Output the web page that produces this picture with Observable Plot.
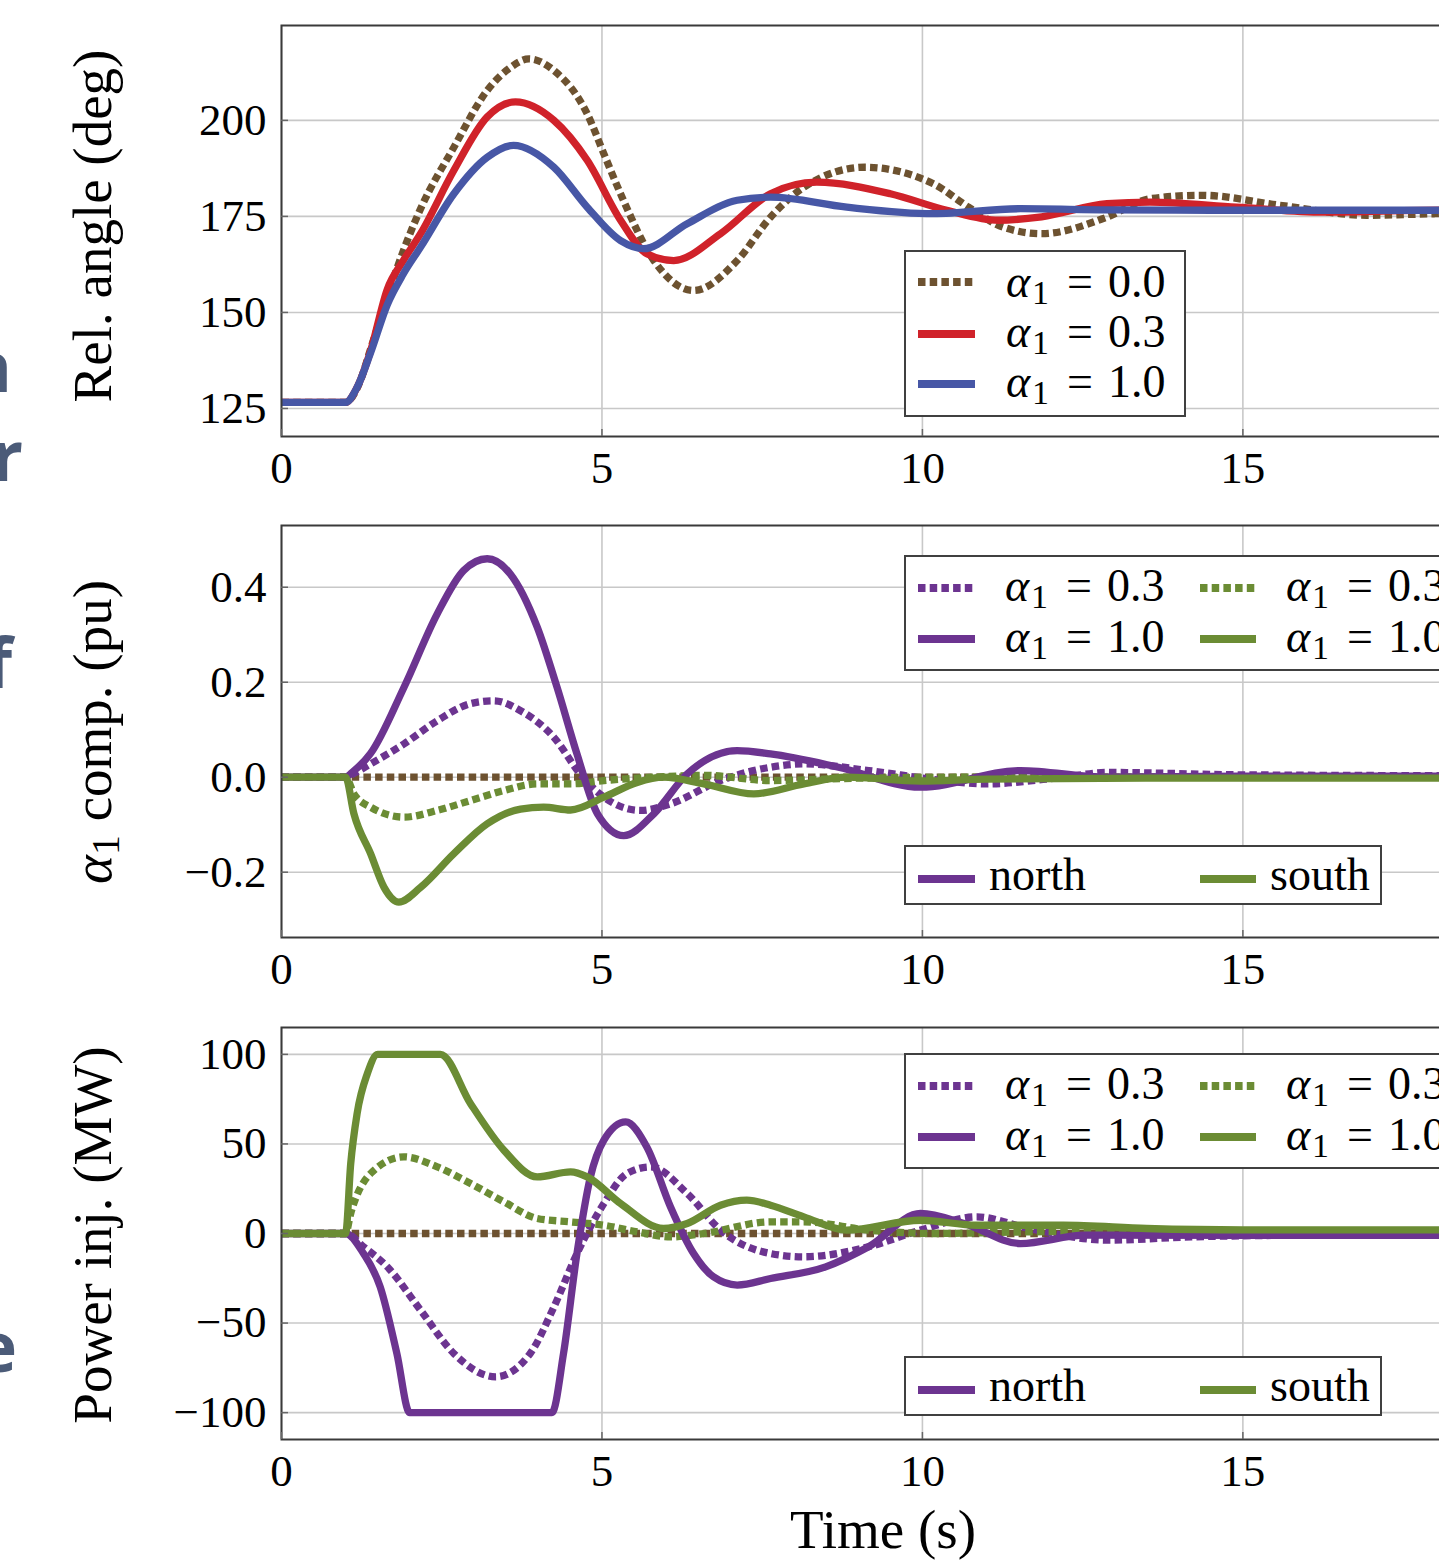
<!DOCTYPE html>
<html>
<head>
<meta charset="utf-8">
<script src="https://cdn.jsdelivr.net/npm/d3@7"></script>
<script src="https://cdn.jsdelivr.net/npm/@observablehq/plot@0.6"></script>
<style>
html, body { margin: 0; padding: 0; background: #fff; overflow: hidden; }
#wrap { position: relative; width: 1439px; height: 1562px; overflow: hidden; background: #fff;
  font-family: "Liberation Serif", "DejaVu Serif", serif; color: #000; }
.panel { position: absolute; left: 0; }
.ylab { position: absolute; white-space: nowrap; font-size: 55px; line-height: 1;
  transform: translate(-50%, -50%) rotate(-90deg); }
.legend { position: absolute; border: 2px solid #404040; background: #fff; box-sizing: border-box; }
.item { position: absolute; white-space: nowrap; font-size: 46px; line-height: 1; }
.al { font-style: italic; display: inline-block; width: 26px; }
.sub { font-size: 34px; position: relative; top: 7px; display: inline-block; width: 15px; }
.eq { display: inline-block; margin-left: 20px; margin-right: 15px; }
.sw { position: absolute; overflow: visible; }
.edge { position: absolute; left: -200px; text-align: right; font-family: "Open Sans", sans-serif;
  font-weight: 700; color: #4b5b78; font-size: 70px; line-height: 1; }
.ital { font-style: italic; }
.ysub { font-size: 40px; position: relative; top: 8px; }
</style>
</head>
<body>
<div id="wrap"></div>
<script>
// ---------------- data ----------------
const xTicks = [0, 5, 10, 15];
const xDomain = [0, 18.77];

// Panel 1: relative angle (deg)
const angleTicks = [125, 150, 175, 200];
const angleDomain = [117.7, 224.7];
const tAng00 = [0, 1.0, 1.2, 1.4, 1.65, 1.9, 2.17, 2.69, 3.21, 3.55, 3.86, 4.25, 4.77, 5.03, 5.29, 5.81, 6.43, 7.11, 7.63, 8.15, 9.1, 10.17, 10.72, 11.26, 11.86, 12.88, 13.55, 14.36, 15.58, 16.93, 18.0, 18.77];
const vAng00 = [126.6, 126.6, 131, 141, 154, 166, 177, 193, 207.8, 213.5, 216, 213, 201.7, 191.3, 180.9, 163.5, 155.7, 163.5, 174.8, 182.6, 187.8, 183.5, 177.4, 172.2, 170.5, 174.8, 179.6, 180.5, 177.9, 175.3, 175.7, 176];
const tAng03 = [0, 1.0, 1.18, 1.39, 1.65, 1.9, 2.17, 2.69, 3.21, 3.65, 4.25, 4.77, 5.29, 5.7, 6.12, 6.85, 7.63, 8.35, 9.5, 10.38, 11.19, 11.86, 12.88, 13.55, 14.9, 16.26, 17.5, 18.77];
const vAng03 = [126.6, 126.6, 130.5, 140, 156, 163.5, 170.5, 187, 200.9, 204.8, 200, 189.6, 174, 165.3, 163.5, 170.5, 180.9, 183.9, 180.9, 176.6, 174, 174.9, 178.3, 178.7, 177.4, 176.1, 176.5, 176.8];
const tAng10 = [0, 1.0, 1.18, 1.39, 1.65, 1.9, 2.17, 2.69, 3.21, 3.62, 4.25, 4.77, 5.29, 5.65, 6.33, 7.11, 7.63, 8.82, 10.17, 11.53, 12.88, 14.5, 16.5, 18.77];
const vAng10 = [126.6, 126.6, 130.5, 139.5, 152, 160, 167, 180.9, 190.4, 193.5, 187.8, 177.4, 168.7, 166.6, 173.1, 179.2, 180, 177.4, 175.7, 177, 176.7, 176.6, 176.6, 176.6];

// Panel 2: alpha_1 component (pu)
const compTicks = [-0.2, 0, 0.2, 0.4];
const compDomain = [-0.3375, 0.53];
const tComp00 = [0, 18.77];
const vComp00 = [0, 0];
const tCompN03 = [0, 1.0, 1.1, 1.39, 1.91, 2.43, 2.95, 3.31, 3.73, 4.25, 4.66, 5.03, 5.6, 6.07, 6.85, 7.63, 8.15, 9.16, 10.31, 10.99, 12.2, 12.88, 15, 18.77];
const vCompN03 = [0, 0, 0.006, 0.028, 0.07, 0.119, 0.155, 0.161, 0.14, 0.084, 0.007, -0.042, -0.07, -0.056, -0.007, 0.021, 0.028, 0.014, -0.007, -0.014, 0, 0.01, 0.005, 0.003];
const tCompS03 = [0, 1.0, 1.13, 1.39, 1.91, 2.43, 2.95, 3.47, 3.99, 4.51, 5.03, 5.81, 6.59, 7.63, 9, 11, 14, 18.77];
const vCompS03 = [0, 0, -0.035, -0.063, -0.084, -0.07, -0.049, -0.028, -0.014, -0.014, -0.007, 0, 0.004, -0.007, -0.002, 0, 0, 0];
const tCompN10 = [0, 1.0, 1.1, 1.39, 1.91, 2.43, 2.84, 3.21, 3.57, 3.99, 4.3, 4.61, 4.93, 5.34, 5.81, 6.33, 7.11, 7.63, 8.69, 9.97, 11.53, 12.88, 15, 18.77];
const vCompN10 = [0, 0, 0.01, 0.05, 0.189, 0.344, 0.435, 0.46, 0.428, 0.316, 0.189, 0.049, -0.077, -0.123, -0.077, 0.007, 0.056, 0.049, 0.021, -0.021, 0.014, 0, 0.002, 0.002];
const tCompS10 = [0, 1.0, 1.13, 1.39, 1.6, 1.83, 2.17, 2.69, 3.21, 3.73, 4.09, 4.51, 5.03, 5.55, 5.96, 6.59, 7.37, 8.15, 8.82, 9.97, 11, 14, 18.77];
const vCompS10 = [0, 0, -0.077, -0.161, -0.232, -0.263, -0.232, -0.161, -0.098, -0.067, -0.063, -0.069, -0.042, -0.011, 0, -0.014, -0.035, -0.014, 0, -0.008, -0.004, -0.002, -0.002];

// Panel 3: power injection (MW)
const powTicks = [-100, -50, 0, 50, 100];
const powDomain = [-115, 115];
const tPow00 = [0, 18.77];
const vPow00 = [0, 0];
const tPowN03 = [0, 1.0, 1.28, 1.65, 2.17, 2.69, 3.34, 3.88, 4.25, 4.61, 5.03, 5.39, 5.76, 6.33, 6.85, 7.63, 8.15, 9.16, 9.97, 10.85, 11.66, 12.88, 14.2, 16, 18.77];
const vPowN03 = [0, 0, -7.4, -18.6, -42.8, -67, -80, -67, -41, -11.2, 16.7, 33.5, 37.2, 22.3, 1.9, -11.2, -13, -7.4, 1.9, 9.3, 2.8, -3.7, -1.9, -1, -1];
const tPowS03 = [0, 1.0, 1.08, 1.39, 1.91, 2.43, 2.95, 3.47, 3.99, 4.51, 5.03, 5.55, 6.07, 6.59, 7.63, 8.15, 9.16, 10.17, 12, 15, 18.77];
const vPowS03 = [0, 0, 11.2, 33.5, 42.8, 37.2, 27.9, 17.7, 8.4, 6.5, 4.6, 0.9, -1.9, 0, 6.5, 6.5, 1.9, 0, 1, 0.5, 0.5];
const tPowN10 = [0, 1.0, 1.28, 1.54, 1.8, 2.0, 4.22, 4.4, 4.61, 4.82, 5.03, 5.37, 5.7, 6.07, 6.43, 6.74, 7.11, 7.63, 8.49, 9.16, 9.97, 10.65, 11.53, 12.54, 15, 18.77];
const vPowN10 = [0, 0, -11.2, -29.8, -67, -100, -100, -67, -11.2, 31.6, 52.1, 62.3, 48.3, 14.8, -11.2, -24.2, -28.8, -25.1, -18.6, -7.4, 11.2, 5.6, -5.6, -0.9, -1, -1];
const tPowS10 = [0, 1.0, 1.08, 1.18, 1.34, 1.5, 2.48, 2.95, 3.47, 3.99, 4.51, 4.77, 5.29, 5.96, 6.33, 6.85, 7.26, 7.63, 8.15, 8.82, 9.97, 10.85, 12.2, 13.5, 15, 18.77];
const vPowS10 = [0, 0, 39, 67, 89.3, 100, 100, 72.5, 46.5, 31.6, 34.4, 31.6, 16.7, 2.8, 5.6, 15.8, 18.6, 15.8, 9.3, 1.9, 7.4, 4.6, 4.6, 2.8, 2, 2];

// labels
const yLabel1 = "Rel. angle (deg)";
const yLabel2Rest = " comp. (pu)";
const yLabel3 = "Power inj. (MW)";
const xLabel = "Time (s)";
const alphaValues = ["0.0", "0.3", "1.0"];
const areaNames = ["north", "south"];

// ---------------- style ----------------
const C = { brown: "#6d5230", red: "#d0222a", blue: "#4757a6", purple: "#6c3490", green: "#6b8c34" };
const LW = 7.3;
const DASH = "7.5,4.2";

function pts(t, v) { return t.map((ti, i) => ({ t: ti, v: v[i] })); }
function lineMark(t, v, color, dotted) {
  return Plot.line(pts(t, v), {
    x: "t", y: "v", stroke: color, strokeWidth: LW, curve: "monotone-x",
    strokeDasharray: dotted ? DASH : undefined, strokeLinejoin: "round", strokeLinecap: "butt"
  });
}
const minus = (s) => s.replace("-", "\u2212");

function makePanel({ marginTop, frameH, marginBottom, yDomain, yTicks, yFormat, lines, extra = [] }) {
  return Plot.plot({
    width: 1494, height: marginTop + frameH + marginBottom,
    marginLeft: 281, marginRight: 10, marginTop, marginBottom,
    style: "max-width:none;background:transparent;overflow:visible;font-family:'Liberation Serif',serif;",
    x: { domain: xDomain },
    y: { domain: yDomain },
    marks: [
      Plot.gridX(xTicks, { stroke: "#c8c8c8", strokeOpacity: 1, strokeWidth: 1.6 }),
      Plot.gridY(yTicks, { stroke: "#c8c8c8", strokeOpacity: 1, strokeWidth: 1.6 }),
      ...lines,
      Plot.frame({ stroke: "#3a3a3a", strokeWidth: 2 }),
      Plot.axisX(xTicks, { tickSize: -7, tickFormat: () => "", stroke: "#666", strokeWidth: 1.5, label: null }),
      Plot.axisY(yTicks, { tickSize: -7, tickFormat: () => "", stroke: "#666", strokeWidth: 1.5, label: null }),
      Plot.axisX(xTicks, { tickSize: 0, tickPadding: 15, fontSize: 45, label: null, fill: "#000" }),
      Plot.axisY(yTicks, { tickSize: 0, tickPadding: 15, fontSize: 45, label: null, tickFormat: yFormat, fill: "#000" }),
      ...extra
    ]
  });
}

const wrap = document.getElementById("wrap");
function place(el, top) { el.classList.add("panel"); el.style.top = top + "px"; wrap.appendChild(el); }

// Panel 1
place(makePanel({
  marginTop: 25, frameH: 411, marginBottom: 64,
  yDomain: angleDomain, yTicks: angleTicks, yFormat: (d) => String(d),
  lines: [
    lineMark(tAng00, vAng00, C.brown, true),
    lineMark(tAng03, vAng03, C.red, false),
    lineMark(tAng10, vAng10, C.blue, false)
  ]
}), 0);

// Panel 2
place(makePanel({
  marginTop: 25, frameH: 412, marginBottom: 63,
  yDomain: compDomain, yTicks: compTicks, yFormat: (d) => minus(d.toFixed(1)),
  lines: [
    lineMark(tComp00, vComp00, C.brown, true),
    lineMark(tCompN03, vCompN03, C.purple, true),
    lineMark(tCompS03, vCompS03, C.green, true),
    lineMark(tCompN10, vCompN10, C.purple, false),
    lineMark(tCompS10, vCompS10, C.green, false)
  ]
}), 500);

// Panel 3
place(makePanel({
  marginTop: 27, frameH: 412, marginBottom: 123,
  yDomain: powDomain, yTicks: powTicks, yFormat: (d) => minus(String(d)),
  lines: [
    lineMark(tPow00, vPow00, C.brown, true),
    lineMark(tPowN03, vPowN03, C.purple, true),
    lineMark(tPowS03, vPowS03, C.green, true),
    lineMark(tPowN10, vPowN10, C.purple, false),
    lineMark(tPowS10, vPowS10, C.green, false)
  ],
  extra: [
    Plot.text([xLabel], { frameAnchor: "bottom", dy: 91, fontSize: 55, lineAnchor: "middle", fill: "#000" })
  ]
}), 1000);

// ---------------- HTML overlays: axis labels & legends ----------------
function yLabel(html, cx, cy) {
  const d = document.createElement("div");
  d.className = "ylab"; d.innerHTML = html;
  d.style.left = cx + "px"; d.style.top = cy + "px";
  wrap.appendChild(d);
}
yLabel(yLabel1, 91.5, 226);
yLabel('<span class="ital">α</span><span class="ysub">1</span>' + yLabel2Rest, 91.5, 732);
yLabel(yLabel3, 91.5, 1235);

function box(left, top, width, height) {
  const d = document.createElement("div");
  d.className = "legend";
  Object.assign(d.style, { left: left + "px", top: top + "px", width: width + "px", height: height + "px" });
  wrap.appendChild(d);
}
function swatch(x1, x2, cy, color, dotted) {
  const w = x2 - x1;
  const ns = "http://www.w3.org/2000/svg";
  const s = document.createElementNS(ns, "svg");
  s.setAttribute("class", "sw");
  s.setAttribute("width", w); s.setAttribute("height", 12);
  s.style.left = x1 + "px"; s.style.top = (cy - 6) + "px";
  const l = document.createElementNS(ns, "line");
  l.setAttribute("x1", 0); l.setAttribute("x2", w); l.setAttribute("y1", 6); l.setAttribute("y2", 6);
  l.setAttribute("stroke", color); l.setAttribute("stroke-width", 7.8);
  if (dotted) l.setAttribute("stroke-dasharray", DASH);
  s.appendChild(l);
  wrap.appendChild(s);
}
function text(html, left, baseline) {
  const d = document.createElement("div");
  d.className = "item"; d.innerHTML = html;
  d.style.left = left + "px"; d.style.top = (baseline - 38.5) + "px";
  wrap.appendChild(d);
}
const alphaText = (v) => `<span class="al">α</span><span class="sub">1</span><span class="eq">=</span>${v}`;

// Legend panel 1
box(904, 250, 282, 167);
swatch(918, 975, 282, C.brown, true);  text(alphaText(alphaValues[0]), 1006, 297);
swatch(918, 975, 334, C.red, false);   text(alphaText(alphaValues[1]), 1006, 347);
swatch(918, 975, 384, C.blue, false);  text(alphaText(alphaValues[2]), 1006, 397);

// Legends panels 2 and 3
function alphaLegend(top) {
  box(904, top, 560, 116);
  const r1 = top + 32.5, r2 = top + 83.5;
  swatch(918, 975, r1, C.purple, true);  text(alphaText(alphaValues[1]), 1005, r1 + 14);
  swatch(918, 975, r2, C.purple, false); text(alphaText(alphaValues[2]), 1005, r2 + 14);
  swatch(1200, 1256, r1, C.green, true);  text(alphaText(alphaValues[1]), 1286, r1 + 14);
  swatch(1200, 1256, r2, C.green, false); text(alphaText(alphaValues[2]), 1286, r2 + 14);
}
function areaLegend(top) {
  box(904, top, 478, 60);
  const r = top + 33.5;
  swatch(918, 975, r, C.purple, false); text(areaNames[0], 989, r + 12);
  swatch(1200, 1256, r, C.green, false); text(areaNames[1], 1270, r + 12);
}
alphaLegend(555);
areaLegend(845);
alphaLegend(1053);
areaLegend(1356);

// cropped letters from neighbouring page text at the left edge
function edge(ch, rightX, baseline) {
  const d = document.createElement("div");
  d.className = "edge"; d.textContent = ch;
  d.style.width = (200 + rightX) + "px";
  d.style.top = (baseline - 62) + "px";
  wrap.appendChild(d);
}
edge("n", 12, 392);
edge("r", 23, 481);
edge("f", 12, 688);
edge("e", 17, 1372);
</script>
</body>
</html>
